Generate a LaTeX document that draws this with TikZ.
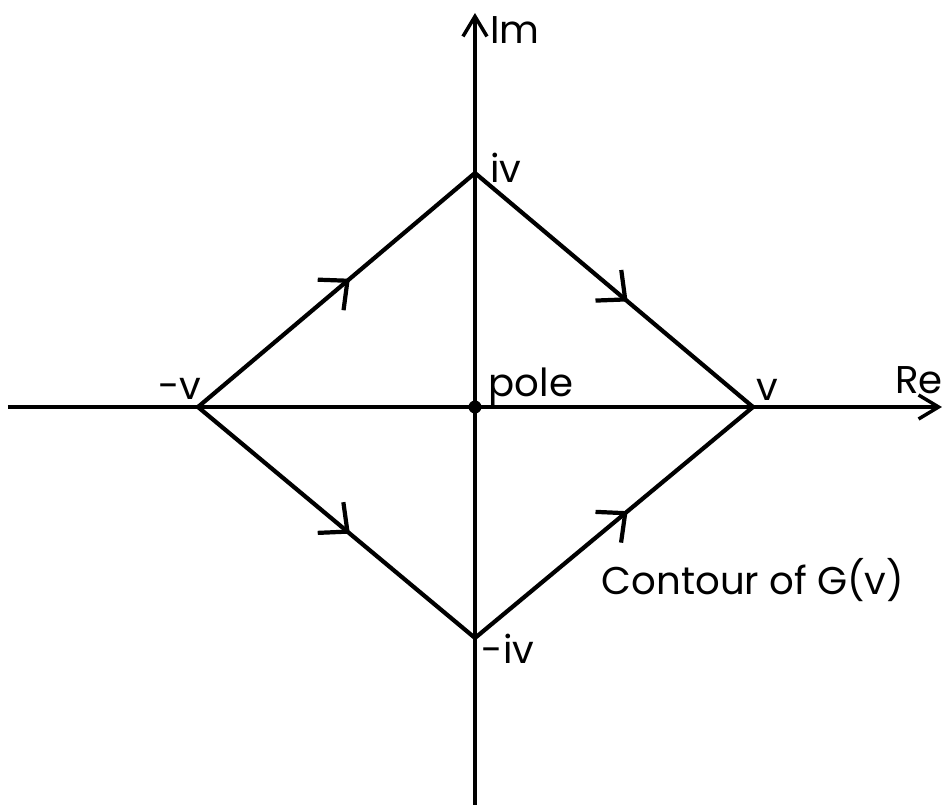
\documentclass[tikz,border=0pt]{standalone}
\usepackage{fontspec}
\setmainfont{Poppins}
\usetikzlibrary{arrows.meta,decorations.markings}

\begin{document}
\begin{tikzpicture}[
        axis/.style={line width=1pt, -{Straight Barb[length=2mm, width=2.4mm, line width=1pt]}},
        edge/.style={line width=1.2pt, line cap=round,
          postaction={decorate},
          decoration={markings, mark=at position 0.55 with
            {\arrow{Straight Barb[length=2.2mm, width=4mm, line width=1.2pt]}}}},
        lbl/.style={font=\fontsize{11}{13}\selectfont, inner sep=1pt},
      ]
        \useasboundingbox (-4.75,-3.98) rectangle (4.74,4.07);

        % axes
        \coordinate (o)    at (0,0);
        \coordinate (xlo)  at (-4.67,0);
        \coordinate (xhi)  at (4.67,0);
        \coordinate (ylo)  at (0,-3.98);
        \coordinate (yhi)  at (0,3.94);
        \draw[axis] (xlo) -- (xhi);
        \draw[axis] (ylo) -- (yhi);

        % corners of the contour
        \coordinate (top)    at (0,2.34);
        \coordinate (right)  at (2.78,0);
        \coordinate (bottom) at (0,-2.31);
        \coordinate (left)   at (-2.77,0);

        \draw[edge] (left) -- (top);
        \draw[edge] (top) -- (right);
        \draw[edge] (left) -- (bottom);
        \draw[edge] (bottom) -- (right);

        % pole
        \fill (o) circle (0.065);

        % Labels
        \node[lbl] (im)   at (0.40,3.77)   {Im};
        \node[lbl] (re)   at (4.44,0.27)   {Re};
        \node[lbl] (iv)   at (0.31,2.39)   {iv};
        \node[lbl] (miv)  at (0.33,-2.42)  {-iv};
        \node[lbl] (v)    at (2.92,0.17)   {v};
        \node[lbl] (mv)   at (-2.95,0.18)  {-v};
        \node[lbl] (pole) at (0.56,0.20)   {pole};
        \node[lbl] (cap)  at (2.78,-1.73)  {Contour of G(v)};
      \end{tikzpicture}
\end{document}
